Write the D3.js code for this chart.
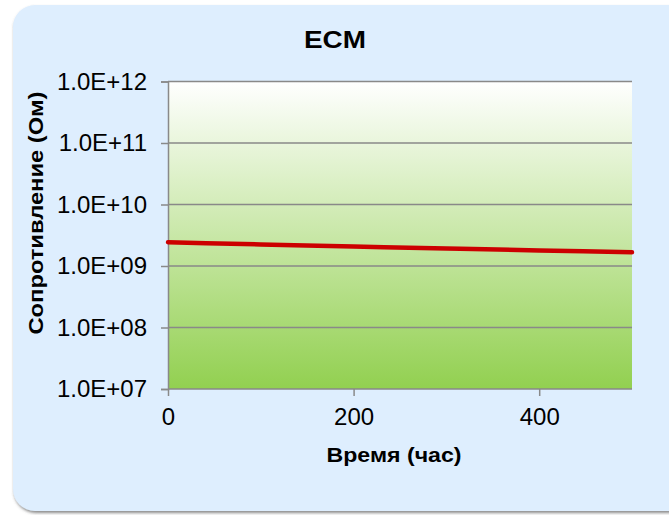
<!DOCTYPE html>
<html>
<head>
<meta charset="utf-8">
<script src="https://cdn.jsdelivr.net/npm/d3@7"></script>
<style>
  html, body { margin: 0; padding: 0; background: #ffffff; }
  svg { display: block; font-family: "Liberation Sans", Arial, sans-serif; }
</style>
</head>
<body>
<div id="chart"></div>
<script>
// Resistance of the ECM sample over time (log scale)
const hours = [0, 100, 200, 300, 400, 500];
const resistance = [2.43e9, 2.24e9, 2.07e9, 1.92e9, 1.79e9, 1.67e9];

const xTicks = [0, 200, 400];
const yTicks = [1e7, 1e8, 1e9, 1e10, 1e11, 1e12];
const yTickLabels = ["1.0E+07", "1.0E+08", "1.0E+09", "1.0E+10", "1.0E+11", "1.0E+12"];

const chartTitle = "ECM";
const xTitle = "Время (час)";
const yTitle = "Сопротивление (Ом)";

const W = 669, H = 515;
const plot = { left: 168, right: 632, top: 81.5, bottom: 389 };
const gridColor = "#898989";

const svg = d3.select("#chart").append("svg")
  .attr("width", W).attr("height", H);

const defs = svg.append("defs");

const shadow = defs.append("filter").attr("id", "cardShadow")
  .attr("x", "-5%").attr("y", "-5%").attr("width", "110%").attr("height", "110%");
shadow.append("feDropShadow")
  .attr("dx", 1).attr("dy", 2).attr("stdDeviation", 1.5)
  .attr("flood-color", "#5a5a5a").attr("flood-opacity", 0.7);

const grad = defs.append("linearGradient").attr("id", "plotFill")
  .attr("x1", 0).attr("y1", 0).attr("x2", 0).attr("y2", 1);
grad.append("stop").attr("offset", "0%").attr("stop-color", "#ffffff");
grad.append("stop").attr("offset", "100%").attr("stop-color", "#92d050");

// Card background
svg.append("rect")
  .attr("x", 13).attr("y", 5)
  .attr("width", 690).attr("height", 506)
  .attr("rx", 22).attr("ry", 22)
  .attr("fill", "#deeefe")
  .attr("filter", "url(#cardShadow)");

const x = d3.scaleLinear().domain([0, 500]).range([plot.left, plot.right]);
const y = d3.scaleLog().domain([1e7, 1e12]).range([plot.bottom, plot.top]);

// Plot area
svg.append("rect")
  .attr("x", plot.left).attr("y", plot.top)
  .attr("width", plot.right - plot.left).attr("height", plot.bottom - plot.top)
  .attr("fill", "url(#plotFill)");

// Horizontal gridlines
svg.append("g")
  .selectAll("line")
  .data(yTicks)
  .join("line")
  .attr("x1", plot.left).attr("x2", plot.right)
  .attr("y1", d => y(d)).attr("y2", d => y(d))
  .attr("stroke", gridColor).attr("stroke-width", 1.5);

// Y axis
const yAxis = svg.append("g")
  .attr("transform", `translate(${plot.left},0)`)
  .call(d3.axisLeft(y).tickValues(yTicks)
    .tickFormat((d, i) => yTickLabels[i]).tickSize(7).tickPadding(14));
yAxis.select(".domain").attr("stroke", gridColor).attr("stroke-width", 1.5);
yAxis.selectAll(".tick line").attr("stroke", gridColor).attr("stroke-width", 1.5);
yAxis.selectAll(".tick text")
  .attr("font-size", 24).attr("fill", "#000").attr("font-family", "Liberation Sans, Arial, sans-serif");

// X axis
const xAxis = svg.append("g")
  .attr("transform", `translate(0,${plot.bottom})`)
  .call(d3.axisBottom(x).tickValues(xTicks).tickSize(7).tickPadding(12));
xAxis.select(".domain").remove();
xAxis.selectAll(".tick line").attr("stroke", gridColor).attr("stroke-width", 1.5);
xAxis.selectAll(".tick text")
  .attr("font-size", 24).attr("fill", "#000").attr("font-family", "Liberation Sans, Arial, sans-serif");

// Series line
const line = d3.line()
  .x((d, i) => x(hours[i]))
  .y(d => y(d))
  .curve(d3.curveMonotoneX);
svg.append("path")
  .datum(resistance)
  .attr("d", line)
  .attr("fill", "none")
  .attr("stroke", "#cc0000")
  .attr("stroke-width", 4.5)
  .attr("stroke-linecap", "round");

// Titles
svg.append("text")
  .attr("x", 335).attr("y", 47.5)
  .attr("text-anchor", "middle")
  .attr("font-size", 24).attr("font-weight", "bold")
  .attr("textLength", 62).attr("lengthAdjust", "spacingAndGlyphs")
  .text(chartTitle);

svg.append("text")
  .attr("x", 394).attr("y", 461.5)
  .attr("text-anchor", "middle")
  .attr("font-size", 20).attr("font-weight", "bold")
  .attr("textLength", 135).attr("lengthAdjust", "spacingAndGlyphs")
  .text(xTitle);

svg.append("text")
  .attr("transform", "translate(42.7,213) rotate(-90)")
  .attr("text-anchor", "middle")
  .attr("font-size", 20).attr("font-weight", "bold")
  .attr("textLength", 243).attr("lengthAdjust", "spacingAndGlyphs")
  .text(yTitle);
</script>
</body>
</html>
